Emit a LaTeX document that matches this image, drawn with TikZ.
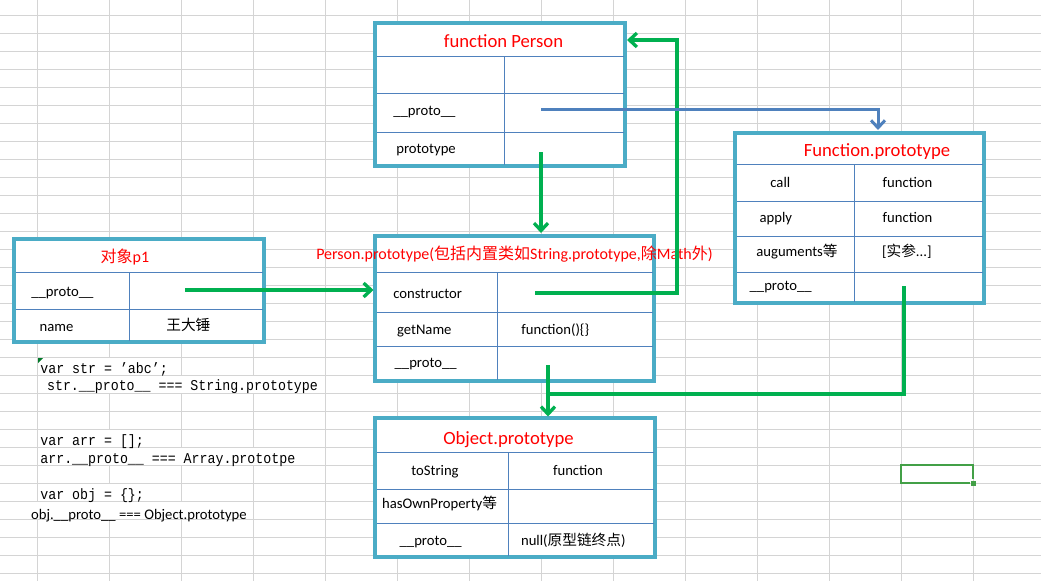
\documentclass[tikz,border=0pt]{standalone}
\usepackage{fontspec}
\setmainfont{Carlito}
\newfontfamily\cjk{Noto Sans CJK SC}
\newfontfamily\codefont{Liberation Mono}[FakeStretch=0.885]
\usetikzlibrary{arrows.meta}

\definecolor{boxteal}{RGB}{75,172,198}
\definecolor{cellblue}{RGB}{79,129,189}
\definecolor{arrowgreen}{RGB}{0,176,80}
\definecolor{sheetgray}{RGB}{212,212,212}
\definecolor{selgreen}{RGB}{67,160,71}
\definecolor{markgreen}{RGB}{0,120,40}

\tikzset{every picture/.style={line width=0.75pt}}
\tikzset{
  sheetline/.style={draw=sheetgray, line width=1pt},
  tablebox/.style={draw=boxteal, line width=3.2pt, fill=white, inner sep=0pt, outer sep=0pt},
  cellline/.style={draw=cellblue, line width=1pt, shorten <=1.5pt, shorten >=1.5pt},
  cell/.style={anchor=base west, inner sep=0pt, font=\fontsize{14.67}{16}\selectfont},
  heading/.style={anchor=base, inner sep=0pt, text=red, font=\fontsize{18.67}{20}\selectfont},
  subheading/.style={anchor=base, inner sep=0pt, text=red, font=\fontsize{16}{18}\selectfont},
  codeline/.style={anchor=base west, inner sep=0pt, font=\codefont\fontsize{15}{16}\selectfont},
  greenarrow/.style={draw=arrowgreen, line width=3.3pt, -{Straight Barb[length=7.5pt,width=14pt]}},
  greenlink/.style={draw=arrowgreen, line width=3.3pt},
  bluearrow/.style={draw=cellblue, line width=3pt, -{Straight Barb[length=7.5pt,width=14pt]}}
}

\begin{document}
\begin{tikzpicture}[x=1pt,y=1pt,yscale=-1,xscale=1]
		\useasboundingbox (0,0) rectangle (1041,581);
		\fill[white] (0,0) rectangle (1041,581);

		%Sheet grid
		\foreach \gx in {37,109,...,973} \draw[sheetline] (\gx,0) -- (\gx,581);
		\foreach \gy in {15,33,...,573} \draw[sheetline] (0,\gy) -- (1041,\gy);
		%Overflow text hides the cell borders
		\foreach \ax/\ay/\bx/\by in {38/357.5/180/374.5, 38/375.5/324/392.5, 38/429.5/180/446.5, 38/447.5/324/464.5, 38/483.5/180/500.5, 0/501.5/252/518.5}
		  \fill[white] (\ax,\ay) rectangle (\bx,\by);

		%Shape: Table [function Person]
		\node[tablebox, minimum width=250pt, minimum height=143pt] (fperson) at (500,94.5) {};
		\draw[cellline] (375,56) -- (625,56);
		\draw[cellline] (375,93) -- (625,93);
		\draw[cellline] (375,132) -- (625,132);
		\draw[cellline, shorten <=0pt] (504,56) -- (504,166);

		%Shape: Table [p1]
		\node[tablebox, minimum width=250pt, minimum height=103pt] (pone) at (139,290.5) {};
		\draw[cellline] (14,272) -- (264,272);
		\draw[cellline] (14,309) -- (264,309);
		\draw[cellline, shorten <=0pt] (129,272) -- (129,342);

		%Shape: Table [Person.prototype]
		\node[tablebox, minimum width=279pt, minimum height=145pt] (pproto) at (514.5,308.5) {};
		\draw[cellline] (375,272) -- (654,272);
		\draw[cellline] (375,312) -- (654,312);
		\draw[cellline] (375,346) -- (654,346);
		\draw[cellline, shorten <=0pt] (497,272) -- (497,381);

		%Shape: Table [Function.prototype]
		\node[tablebox, minimum width=249pt, minimum height=170pt] (fnproto) at (859.5,218) {};
		\draw[cellline] (735,164) -- (984,164);
		\draw[cellline] (735,201) -- (984,201);
		\draw[cellline] (735,236) -- (984,236);
		\draw[cellline] (735,272) -- (984,272);
		\draw[cellline, shorten <=0pt] (854,164) -- (854,303);

		%Shape: Table [Object.prototype]
		\node[tablebox, minimum width=280pt, minimum height=139pt] (oproto) at (515,487.5) {};
		\draw[cellline] (375,452) -- (655,452);
		\draw[cellline] (375,489) -- (655,489);
		\draw[cellline] (375,523) -- (655,523);
		\draw[cellline, shorten <=0pt] (508,452) -- (508,557);

		% Text Node
		\draw (503.5,47.7) node[heading] (fp-title) {function Person};
		\draw (393,115) node[cell] (fp-proto) {\_\_proto\_\_};
		\draw (396,153) node[cell] (fp-prototype) {prototype};
		% Text Node
		\draw (125,262.5) node[subheading] (p1-title) {{\cjk 对象}p1};
		\draw (31,296) node[cell] (p1-proto) {\_\_proto\_\_};
		\draw (39.3,331.5) node[cell] (p1-name) {name};
		\draw (166,330) node[cell] (p1-value) {\cjk 王大锤};
		% Text Node
		\draw (514.5,259) node[subheading] (pp-title) {Person.prototype({\cjk 包括内置类如}String.prototype,{\cjk 除}Math{\cjk 外})};
		\draw (393,298) node[cell] (pp-ctor) {constructor};
		\draw (396.7,334) node[cell] (pp-getname) {getName};
		\draw (521,334) node[cell] (pp-getnamefn) {function()\{\}};
		\draw (394.3,367) node[cell] (pp-proto) {\_\_proto\_\_};
		% Text Node
		\draw (877,156) node[heading] (fn-title) {Function.prototype};
		\draw (770,187.3) node[cell] (fn-call) {call};
		\draw (882.3,187.3) node[cell] (fn-callfn) {function};
		\draw (759.3,222.3) node[cell] (fn-apply) {apply};
		\draw (882.3,222.3) node[cell] (fn-applyfn) {function};
		\draw (756,256.7) node[cell] (fn-args) {auguments{\cjk 等}};
		\draw (881.7,256.7) node[cell] (fn-argsval) {[{\cjk 实参}...]};
		\draw (749.3,290.7) node[cell] (fn-proto) {\_\_proto\_\_};
		% Text Node
		\draw (508.5,444) node[heading] (op-title) {Object.prototype};
		\draw (411,475) node[cell] (op-tostring) {toString};
		\draw (552.7,475) node[cell] (op-tostringfn) {function};
		\draw (381.7,508.7) node[cell] (op-hasown) {hasOwnProperty{\cjk 等}};
		\draw (399.3,545) node[cell] (op-proto) {\_\_proto\_\_};
		\draw (520.7,545) node[cell] (op-protoval) {null({\cjk 原型链终点})};

		% Text Node [code]
		\fill[markgreen] (38,358) -- (43,358) -- (38,363) -- cycle;
		\draw (40,373.3) node[codeline] (code-str) {var str = ’abc’;};
		\draw (46.7,390.7) node[codeline] (code-strproto) {str.\_\_proto\_\_ === String.prototype};
		\draw (40,445) node[codeline] (code-arr) {var arr = [];};
		\draw (40,463.3) node[codeline] (code-arrproto) {arr.\_\_proto\_\_ === Array.prototpe};
		\draw (40,499) node[codeline] (code-obj) {var obj = \{\};};
		\draw (30.7,519) node[cell] (code-objproto) {obj.\_\_proto\_\_ === Object.prototype};

		%Selected cell
		\draw[selgreen, line width=2.5pt] (970,483) -- (901,483) -- (901,465) -- (973,465) -- (973,479);
		\fill[selgreen] (971,481) rectangle (976,486);

		%Connectors
		\coordinate (p1protoval) at (185,290);
		\coordinate (fpprotoval) at (541,152);
		\coordinate (fpprotolink) at (541,109);
		\coordinate (fnturn) at (878,109);
		\coordinate (ctorval) at (535,293);
		\coordinate (ctorturn) at (677,40);
		\coordinate (ppprotoval) at (548,365);
		\coordinate (fnprotoval) at (904,286);
		\coordinate (fnjoin) at (548,394);
		\draw[greenarrow, shorten >=1.5pt] (p1protoval) -- (p1protoval -| pproto.west);
		\draw[greenarrow, shorten >=3pt] (fpprotoval) -- (fpprotoval |- pproto.north);
		\draw[greenarrow, shorten >=2pt] (ctorval) -| (ctorturn) -- (ctorturn -| fperson.east);
		\draw[bluearrow, shorten >=3pt] (fpprotolink) -- (fnturn) -- (fnturn |- fnproto.north);
		\draw[greenarrow, shorten >=1.5pt] (ppprotoval) -- (ppprotoval |- oproto.north);
		\draw[greenlink] (fnprotoval) |- (fnjoin);
	\end{tikzpicture}
\end{document}
